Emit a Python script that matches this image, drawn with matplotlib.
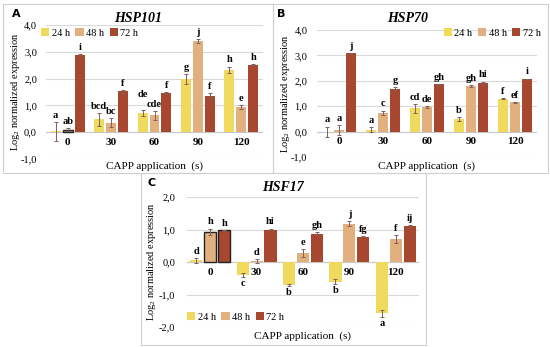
import numpy as np
import matplotlib
matplotlib.use("Agg")
import matplotlib.pyplot as plt
from matplotlib.patches import Rectangle, Patch

plt.rcParams['font.family'] = ['Liberation Serif', 'DejaVu Serif']
plt.rcParams['mathtext.fontset'] = 'custom'
plt.rcParams['mathtext.rm'] = 'Liberation Serif'

W, H = 550, 347

times = ["0", "30", "60", "90", "120"]
series = ["24 h", "48 h", "72 h"]
colors = ["#F0DA5E", "#E2B07F", "#A8472F"]

# HSP101
a_mean = [[0.03, 0.48, 0.72, 1.98, 2.33],
          [0.10, 0.35, 0.63, 3.40, 0.95],
          [2.88, 1.53, 1.46, 1.35, 2.52]]
a_err = [[0.35, 0.24, 0.12, 0.20, 0.12],
         [0.07, 0.17, 0.16, 0.08, 0.08],
         [0.05, 0.05, 0.03, 0.12, 0.02]]
a_let = [["a", "bcd", "de", "g", "h"],
         ["ab", "bc", "cde", "j", "e"],
         ["i", "f", "f", "f", "h"]]

# HSP70
b_mean = [[0.00, 0.07, 0.92, 0.48, 1.29],
          [0.05, 0.75, 0.97, 1.79, 1.15],
          [3.08, 1.69, 1.86, 1.92, 2.08]]
b_err = [[0.20, 0.10, 0.18, 0.08, 0.02],
         [0.20, 0.08, 0.04, 0.04, 0.03],
         [0.03, 0.05, 0.03, 0.05, 0.01]]
b_let = [["a", "a", "cd", "b", "f"],
         ["a", "c", "de", "gh", "ef"],
         ["j", "g", "gh", "hi", "i"]]

# HSF17
c_mean = [[0.05, -0.40, -0.72, -0.60, -1.58],
          [0.93, 0.03, 0.28, 1.18, 0.70],
          [0.97, 1.00, 0.87, 0.78, 1.10]]
c_err = [[0.08, 0.07, 0.03, 0.08, 0.10],
         [0.10, 0.05, 0.12, 0.08, 0.12],
         [0.02, 0.03, 0.04, 0.02, 0.04]]
c_let = [["d", "c", "b", "b", "a"],
         ["h", "d", "e", "j", "f"],
         ["h", "hi", "gh", "fg", "ij"]]

fig = plt.figure(figsize=(W / 100, H / 100), dpi=100)

# panel frames
for x0, y0, x1, y1 in [(3, 4, 273, 173), (273, 4, 548, 173), (141, 173, 426, 345)]:
    fig.patches.append(Rectangle((x0 / W, 1 - y1 / H), (x1 - x0) / W, (y1 - y0) / H,
                                 transform=fig.transFigure, fill=False,
                                 edgecolor="#D0D0D0", linewidth=0.8))


def make_panel(left, right, top, bottom, ylo, yhi, mean, err, let, off, bw,
               title, title_xy, tag, tag_xy, ylab_x, ypad, xlab_y, leg_xy, leg_loc,
               control=(), lift=None):
    lift = lift or {}
    ax = fig.add_axes([left / W, 1 - bottom / H, (right - left) / W, (bottom - top) / H])
    x = np.arange(len(times))
    for i, s in enumerate(series):
        xs = x + (i - 1) * off
        bars = ax.bar(xs, mean[i], bw, color=colors[i], zorder=2)
        ax.errorbar(xs, mean[i], yerr=err[i], fmt="none", ecolor="#806060",
                    elinewidth=0.7, capsize=1.5, capthick=0.7, zorder=3)
        for j in range(len(times)):
            if (i, j) in control:
                bars[j].set_edgecolor("#222222")
                bars[j].set_linewidth(1.0)
            v, e = mean[i][j], err[i][j]
            dy = 1.5 + lift.get((i, j), 0)
            if v >= 0:
                ax.annotate(let[i][j], (xs[j], v + e), xytext=(0, dy),
                            textcoords="offset points", ha="center", va="bottom",
                            fontsize=7.5, fontweight="bold")
            else:
                ax.annotate(let[i][j], (xs[j], v - e), xytext=(0, -dy),
                            textcoords="offset points", ha="center", va="top",
                            fontsize=7.5, fontweight="bold")
    for j, t in enumerate(times):
        ax.annotate(t, (x[j], 0), xytext=(0, -4), textcoords="offset points",
                    ha="center", va="top", fontsize=8, fontweight="bold")
    ax.set_xlim(-0.5, len(times) - 0.5)
    ax.set_ylim(ylo, yhi)
    yt = np.arange(ylo, yhi + 0.5, 1.0)
    ax.set_yticks(yt)
    ax.set_yticklabels([f"{v:.1f}".replace(".", ",") for v in yt], fontsize=7.5)
    ax.set_xticks([])
    ax.tick_params(axis="y", length=0, pad=ypad)
    ax.grid(axis="y", color="#D9D9D9", linewidth=0.8, zorder=0)
    ax.set_axisbelow(True)
    for sp in ax.spines.values():
        sp.set_visible(False)
    ax.axhline(0, color="#C8C8C8", linewidth=0.8, zorder=1)
    fig.text(title_xy[0] / W, 1 - title_xy[1] / H, title, ha="center", va="center",
             fontsize=10, fontweight="bold", fontstyle="italic")
    fig.text(tag_xy[0] / W, 1 - tag_xy[1] / H, tag, ha="left", va="center",
             fontsize=8, fontweight="bold", family="DejaVu Sans")
    fig.text(ylab_x / W, 1 - (top + bottom) / 2 / H,
             r"Log$_\mathregular{2}$ normalized expression", rotation=90,
             ha="center", va="center", fontsize=7.5)
    fig.text((left + right) / 2 / W, 1 - xlab_y / H, "CAPP application  (s)",
             ha="center", va="center", fontsize=8)
    handles = [Patch(facecolor=c, label=s) for c, s in zip(colors, series)]
    fig.legend(handles=handles, loc=leg_loc,
               bbox_to_anchor=(leg_xy[0] / W, 1 - leg_xy[1] / H), ncol=3,
               frameon=False, fontsize=7.5, handlelength=0.8, handleheight=0.8,
               handletextpad=0.25, columnspacing=0.5, borderpad=0, borderaxespad=0)
    return ax


make_panel(46, 263, 25, 159, -1, 4, a_mean, a_err, a_let, 0.276, 0.23,
           "HSP101", (138, 18), "A", (12, 14), 16, 6.5, 166, (41, 33), "center left",
           control={(1, 0)}, lift={(0, 2): 6})
make_panel(317, 537, 30, 157, -1, 4, b_mean, b_err, b_let, 0.27, 0.23,
           "HSP70", (408, 18), "B", (277, 14), 285, 7, 166, (541, 33), "center right")
make_panel(187, 419, 197, 327, -2, 2, c_mean, c_err, c_let, 0.30, 0.26,
           "HSF17", (283, 188), "C", (148, 183), 152, 8.5, 336, (187, 317), "center left",
           control={(1, 0), (2, 0)})

fig.savefig("out.png", dpi=100)
